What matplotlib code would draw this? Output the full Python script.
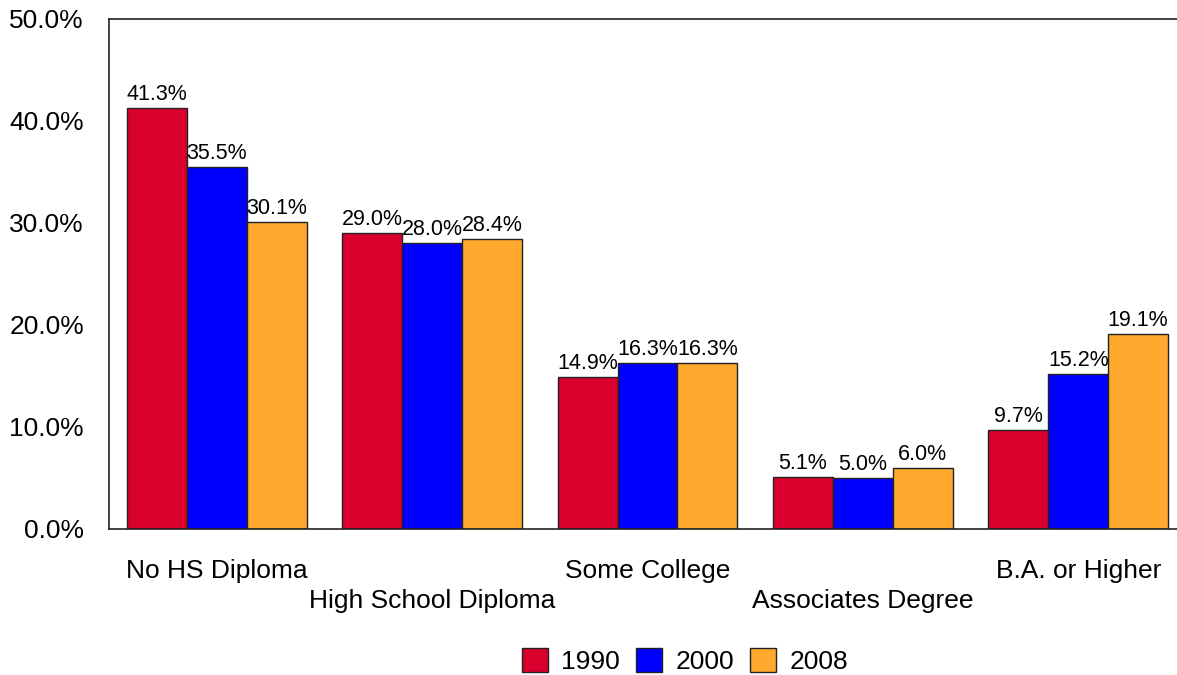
import numpy as np
import matplotlib.pyplot as plt

plt.rcParams['font.family'] = ['Liberation Sans', 'DejaVu Sans']

categories = ['No HS Diploma', 'High School Diploma', 'Some College',
              'Associates Degree', 'B.A. or Higher']
years = ['1990', '2000', '2008']
v1990 = [41.3, 29.0, 14.9, 5.1, 9.7]
v2000 = [35.5, 28.0, 16.3, 5.0, 15.2]
v2008 = [30.1, 28.4, 16.3, 6.0, 19.1]
colors = ['#D9002E', '#0000FF', '#FFAA2E']

fig = plt.figure(figsize=(11.77, 6.75), dpi=100)
ax = fig.add_axes([109 / 1177, 1 - 529 / 675, 1077 / 1177, 510 / 675])

x = np.arange(len(categories))
w = 0.278
for i, (vals, yr, c) in enumerate(zip([v1990, v2000, v2008], years, colors)):
    bars = ax.bar(x + (i - 1) * w, vals, w, color=c, edgecolor='#222222',
                  linewidth=1, label=yr, zorder=2)
    for b, v in zip(bars, vals):
        ax.text(b.get_x() + b.get_width() / 2, v + 0.3, f'{v:.1f}%',
                ha='center', va='bottom', fontsize=15.5)

ax.set_xlim(-0.5, 4.5)
ax.set_ylim(0, 50)
ax.set_yticks(np.arange(0, 51, 10))
ax.set_yticklabels([f'{t:.1f}%' for t in np.arange(0, 51, 10)], fontsize=19)
ax.tick_params(axis='y', length=0, pad=18)
ax.set_xticks([])
ax.spines['right'].set_visible(False)
for s in ['left', 'bottom', 'top']:
    ax.spines[s].set_linewidth(1.2)
    ax.spines[s].set_color('#222222')

# staggered category labels
for i, name in enumerate(categories):
    yoff = -4.1 if i % 2 == 0 else -7.1
    ax.text(i, yoff, name, ha='center', va='center', fontsize=19,
            clip_on=False)

fig.legend(loc='center left', bbox_to_anchor=(498 / 1177, 1 - 661 / 675),
           ncol=3, frameon=False, fontsize=19, handlelength=1.0,
           handleheight=1.0, handletextpad=0.5, columnspacing=0.6)

fig.savefig('out.png', dpi=100)
